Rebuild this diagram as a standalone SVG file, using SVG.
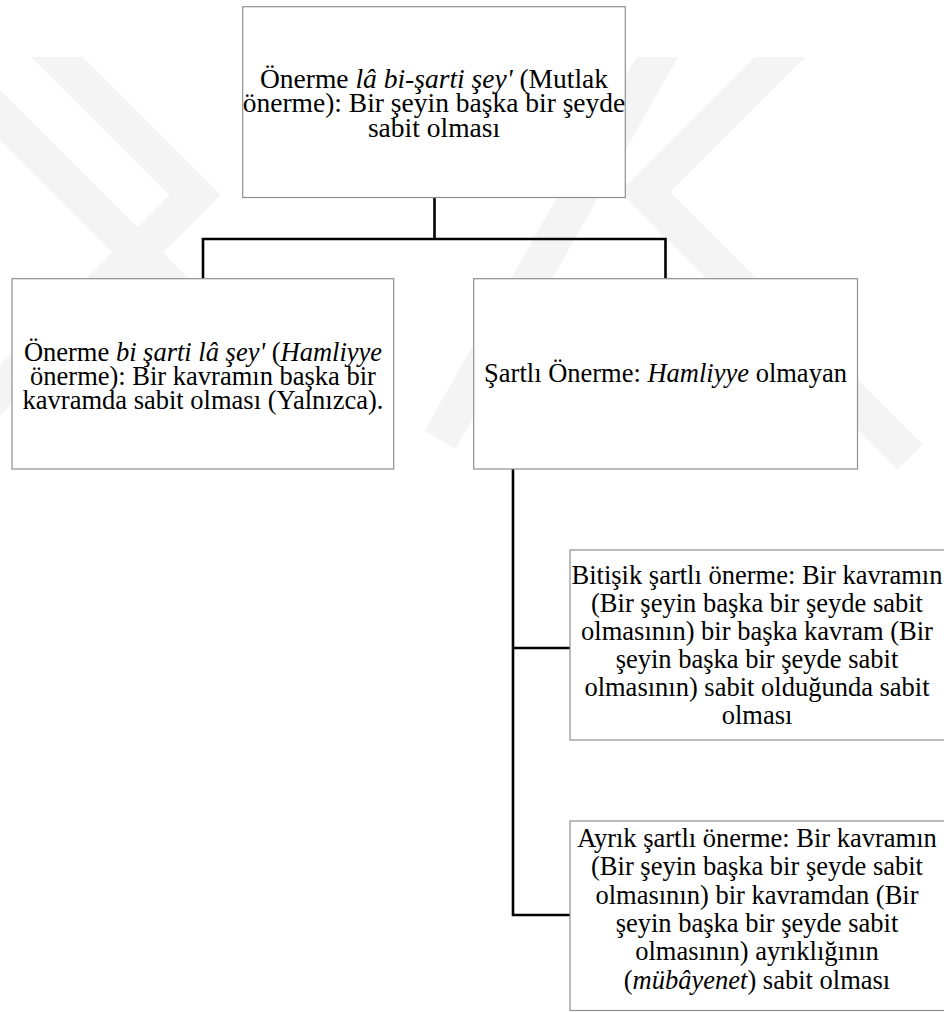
<svg xmlns="http://www.w3.org/2000/svg" width="944" height="1012" viewBox="0 0 944 1012">
<style>
.box{fill:#ffffff;stroke:#8f8f8f;stroke-width:1.2}
.t{font-family:"Liberation Serif","Times New Roman",serif;font-size:26.5px;fill:#000;text-anchor:middle}
.big{font-size:27.5px}
.i{font-style:italic}
.con{fill:none;stroke:#000;stroke-width:2.6}
.wm{fill:none;stroke:#f4f4f4;stroke-width:36;stroke-linejoin:miter}
</style>
<defs>
<clipPath id="wmclip"><rect x="0" y="57" width="944" height="420"/></clipPath>
</defs>
<g id="watermark" clip-path="url(#wmclip)">
<path class="wm" d="M40,40 L195,195 L-20,410"/>
<path class="wm" d="M-40,75 L190,305"/>
<path class="wm" d="M797,40 L645,192 L910,457"/>
<path class="wm" d="M667,40 L440,440"/>
</g>
<g id="connectors">
<path class="con" d="M434.5,197.5 V239 M203,279 V239 H665.5 V279"/>
<path class="con" d="M513,469 V915 H570 M513,648 H570"/>
</g>
<g id="n-top">
<rect class="box" x="242.7" y="6.7" width="382.6" height="190.8"/>
<text class="t big" x="434" y="88">Önerme <tspan class="i">lâ bi-şarti şey'</tspan> (Mutlak</text>
<text class="t big" x="434" y="112.3">önerme): Bir şeyin başka bir şeyde</text>
<text class="t big" x="434" y="136.6">sabit olması</text>
</g>
<g id="n-hamliyye">
<rect class="box" x="12" y="278.7" width="381.7" height="190.3"/>
<text class="t" x="203" y="360.5">Önerme <tspan class="i">bi şarti lâ şey'</tspan> (<tspan class="i">Hamliyye</tspan></text>
<text class="t" x="203" y="384.5">önerme): Bir kavramın başka bir</text>
<text class="t" x="203" y="408.5">kavramda sabit olması (Yalnızca).</text>
</g>
<g id="n-sartli">
<rect class="box" x="473.7" y="278.7" width="383.8" height="190.3"/>
<text class="t" x="665.5" y="382">Şartlı Önerme: <tspan class="i">Hamliyye</tspan> olmayan</text>
</g>
<g id="n-bitisik">
<rect class="box" x="570" y="550" width="384" height="190"/>
<text class="t" x="757" y="584">Bitişik şartlı önerme: Bir kavramın</text>
<text class="t" x="757" y="612">(Bir şeyin başka bir şeyde sabit</text>
<text class="t" x="757" y="640">olmasının) bir başka kavram (Bir</text>
<text class="t" x="757" y="668">şeyin başka bir şeyde sabit</text>
<text class="t" x="757" y="696">olmasının) sabit olduğunda sabit</text>
<text class="t" x="757" y="724">olması</text>
</g>
<g id="n-ayrik">
<rect class="box" x="570" y="821" width="384" height="189.5"/>
<text class="t" x="757" y="847">Ayrık şartlı önerme: Bir kavramın</text>
<text class="t" x="757" y="875.3">(Bir şeyin başka bir şeyde sabit</text>
<text class="t" x="757" y="903.6">olmasının) bir kavramdan (Bir</text>
<text class="t" x="757" y="931.9">şeyin başka bir şeyde sabit</text>
<text class="t" x="757" y="960.2">olmasının) ayrıklığının</text>
<text class="t" x="757" y="988.5">(<tspan class="i">mübâyenet</tspan>) sabit olması</text>
</g>
</svg>
